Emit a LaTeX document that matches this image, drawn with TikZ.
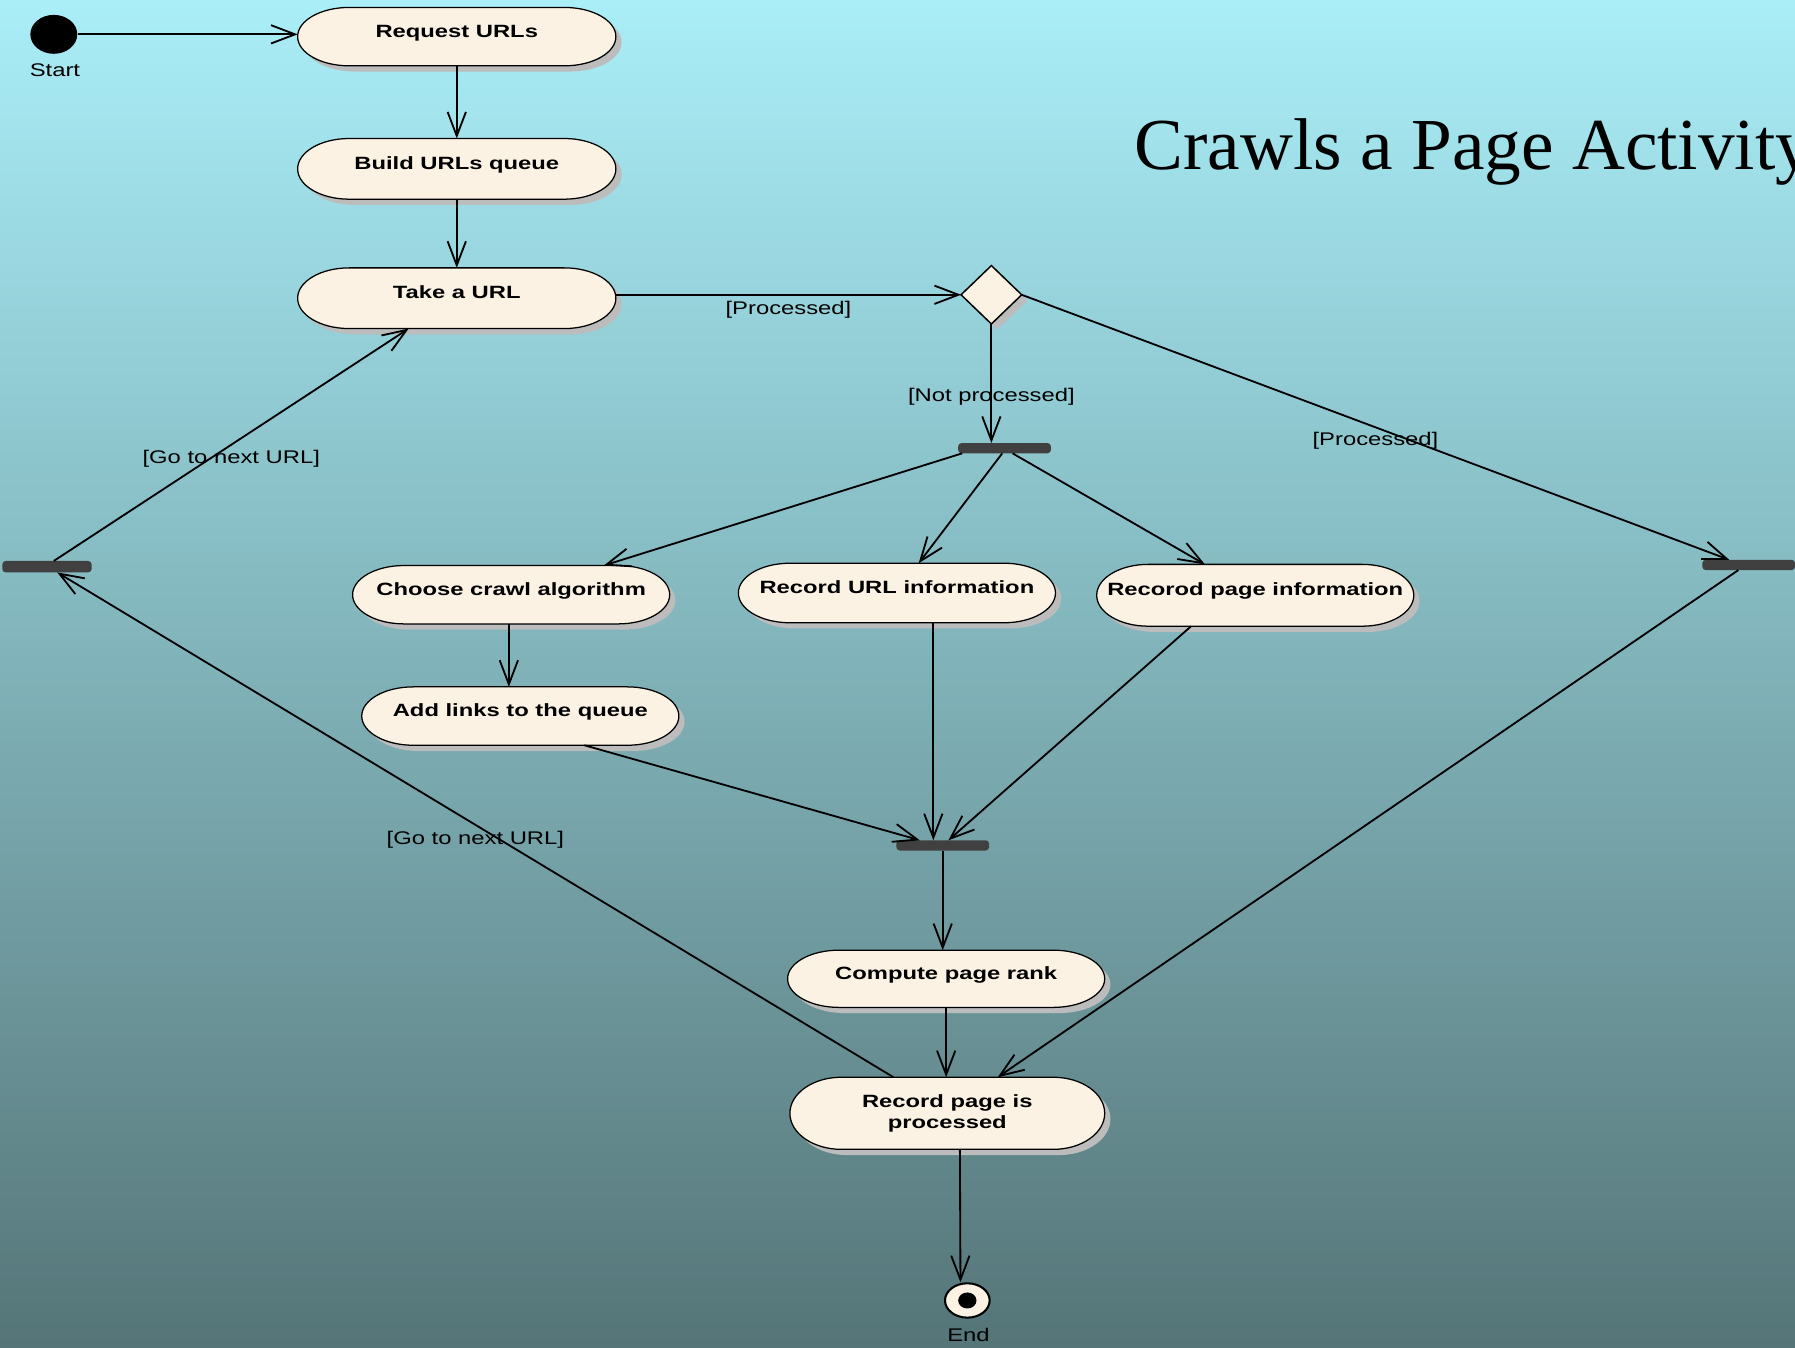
\documentclass[tikz,border=0pt]{standalone}
\usepackage{fontspec}
\usetikzlibrary{arrows.meta,shapes.geometric,calc,shadows}

\newfontfamily\actfont[FakeStretch=1.34]{Liberation Sans}
\newfontfamily\lblfont[FakeStretch=1.3]{Liberation Sans}
\newfontfamily\titlefont{Liberation Serif}

\definecolor{bgtop}{RGB}{170,238,248}
\definecolor{bgbottom}{RGB}{85,117,120}
\definecolor{cream}{RGB}{252,242,228}
\definecolor{shadowc}{RGB}{188,188,188}
\definecolor{barc}{RGB}{64,64,64}

\pgfdeclarelayer{bg}
\pgfdeclarelayer{shapes}
\pgfsetlayers{bg,shapes,main}

% horizontal radius of the elliptic ends of an action box
\def\capr{45pt}

% outline (with drop shadow) of an action box, built from the node's corners
\newcommand\capsule[1]{%
  \path[fill=shadowc] let \p1=(#1.north west), \p2=(#1.south east),
      \p3=($0.5*(\p1)-0.5*(\p2)$) in
    (\x1+\capr+5pt,\y1-5pt) -- (\x2-\capr+5pt,\y1-5pt)
    arc[start angle=90,end angle=-90,x radius=\capr,y radius=\y3]
    -- (\x1+\capr+5pt,\y2-5pt)
    arc[start angle=270,end angle=90,x radius=\capr,y radius=\y3] -- cycle;
  \path[fill=cream,draw=black,line width=1.1pt] let \p1=(#1.north west), \p2=(#1.south east),
      \p3=($0.5*(\p1)-0.5*(\p2)$) in
    (\x1+\capr,\y1) -- (\x2-\capr,\y1)
    arc[start angle=90,end angle=-90,x radius=\capr,y radius=\y3]
    -- (\x1+\capr,\y2)
    arc[start angle=270,end angle=90,x radius=\capr,y radius=\y3] -- cycle;
}

\begin{document}
\begin{tikzpicture}[x=1pt, y=-1pt,
  actbase/.style={rectangle, draw=none, inner sep=0pt, outer sep=0pt,
    minimum width=277pt, minimum height=52pt,
    font=\actfont\bfseries\fontsize{15.5pt}{18pt}\selectfont},
  act/.style={actbase, text height=11pt, text depth=10pt},
  bar/.style={rectangle, fill=barc, rounded corners=3pt, inner sep=0pt, outer sep=0pt,
    minimum width=81pt, minimum height=9pt},
  lbl/.style={inner sep=0pt, font=\lblfont\fontsize{16pt}{19pt}\selectfont},
  conn/.style={draw=black, line width=1.6pt, -{Straight Barb[length=21pt,width=16pt]}},
  decision/.style={diamond, aspect=1, inner sep=0pt, outer sep=0pt,
    minimum width=53pt, minimum height=51pt, fill=cream, draw=black, line width=1.3pt,
    drop shadow={shadow xshift=5pt, shadow yshift=-5pt, fill=shadowc, opacity=1}},
]
\useasboundingbox (0,0) rectangle (1568,1177);
\begin{pgfonlayer}{bg}
  \shade[top color=bgtop, bottom color=bgbottom] (0,0) rectangle (1568,1177);
\end{pgfonlayer}
\clip (0,0) rectangle (1568,1177);

% title
\node[anchor=base west, inner sep=0pt, font=\titlefont\fontsize{64pt}{70pt}\selectfont]
  (title) at (991,148.5) {Crawls a Page Activity};

% initial and final states
\node[ellipse, fill=black, inner sep=0pt, minimum width=41pt, minimum height=34pt] (start) at (47,30) {};
\node[lbl] (startlbl) at (48,61) {Start};
\node[ellipse, fill=cream, draw=black, line width=1.8pt, inner sep=0pt,
  minimum width=39pt, minimum height=30pt,
  path picture={\fill[black] (path picture bounding box.center) ellipse[x radius=8pt, y radius=7pt];}]
  (end) at (845,1136) {};
\node[lbl] (endlbl) at (846,1166) {End};

% actions
\node[act, minimum width=278pt, minimum height=51pt] (req) at (399,32) {Request URLs};
\node[act, minimum width=278pt, minimum height=53pt] (build) at (399,147.5) {Build URLs queue};
\node[act, minimum width=278pt, minimum height=53pt] (take) at (399,260.5) {Take a URL};
\node[act, minimum height=51pt] (choose) at (446.5,519.5) {Choose crawl algorithm};
\node[act, minimum height=52pt] (recurl) at (783.5,518) {Record URL information};
\node[act, minimum height=54pt] (recpage) at (1096.5,520) {Recorod page information};
\node[act, minimum height=51pt] (addl) at (454.5,625.5) {Add links to the queue};
\node[act, minimum height=50pt] (compute) at (826.5,855) {Compute page rank};
\node[actbase, align=center, minimum width=275pt, minimum height=63pt] (recproc) at (827.5,972.5)
  {Record page is\\processed};

% decision, forks and joins
\node[decision] (dec) at (866,257.5) {};
\node[bar] (fork) at (877.5,391.5) {};
\node[bar] (rbar) at (1527.5,493.5) {};
\node[bar, minimum width=78pt, minimum height=10pt] (lbar) at (41,495) {};
\node[bar] (join) at (823.5,738.5) {};

\begin{pgfonlayer}{shapes}
  \foreach \nd in {req,build,take,choose,recurl,recpage,addl,compute,recproc} {\capsule{\nd}}
\end{pgfonlayer}

% flows
\draw[conn] (start.east) -- (req.west |- start.east);
\draw[conn] (req.south) -- (build.north);
\draw[conn] (build.south) -- (take.north);
\draw[conn] (take.east |- dec.west) -- node[lbl, pos=0.5, yshift=-13pt] {[Processed]} (dec.west);
\draw[conn] (dec.south) -- node[lbl, pos=0.61] {[Not processed]} ([xshift=-11.5pt]fork.north);
\draw[conn] (dec.east) -- node[lbl, pos=0.5, yshift=-11.5pt] {[Processed]} ([xshift=-17pt]rbar.north);

\draw[conn] ([xshift=-37pt]fork.south) -- ([xshift=81pt]choose.north);
\draw[conn] ([xshift=-2pt]fork.south) -- ([xshift=19pt]recurl.north);
\draw[conn] ([xshift=7pt]fork.south) -- ([xshift=-44pt]recpage.north);

\draw[conn] ([xshift=-2pt]choose.south) -- ([xshift=-10pt]addl.north);
\draw[conn] ([xshift=56pt]addl.south) -- ([xshift=-20pt]join.north);
\draw[conn] ([xshift=31.8pt]recurl.south) -- ([xshift=-8.2pt]join.north);
\draw[conn] ([xshift=-56pt]recpage.south) -- ([xshift=5pt]join.north);

\draw[conn] (join.south) -- (join.south |- compute.north);
\draw[conn] (compute.south) -- (compute.south |- recproc.north);
\draw[conn] ([xshift=-9pt]rbar.south) -- ([xshift=44pt]recproc.north);
\draw[conn] ([xshift=-47pt]recproc.north) -- node[lbl, pos=0.5, yshift=-13pt] {[Go to next URL]} ([xshift=9pt]lbar.south);
\draw[conn] ([xshift=6pt]lbar.north) -- node[lbl, pos=0.5, yshift=-12pt] {[Go to next URL]} ([xshift=-42pt]take.south);
\draw[conn] ([xshift=11pt]recproc.south) -- ([xshift=-6pt]end.north);
\end{tikzpicture}
\end{document}
